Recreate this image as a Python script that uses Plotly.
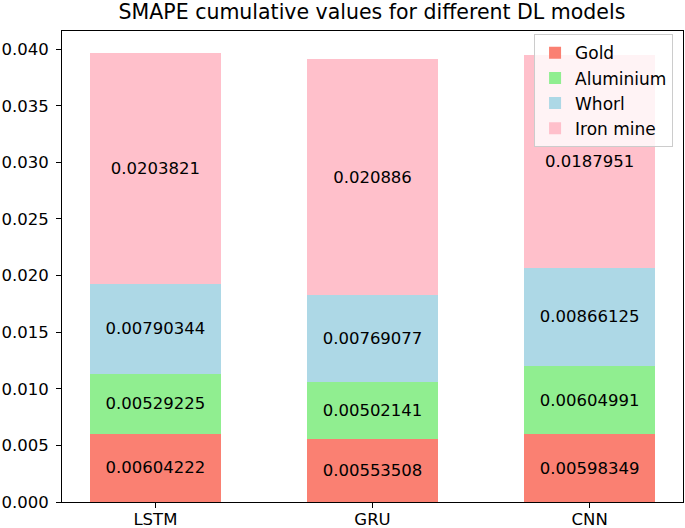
import plotly.graph_objects as go

models = ["LSTM", "GRU", "CNN"]
series_names = ["Gold", "Aluminium", "Whorl", "Iron mine"]
gold = [0.00604222, 0.00553508, 0.00598349]
aluminium = [0.00529225, 0.00502141, 0.00604991]
whorl = [0.00790344, 0.00769077, 0.00866125]
iron = [0.0203821, 0.020886, 0.0187951]
colors = ["#FA8072", "#90EE90", "#ADD8E6", "#FFC0CB"]

fig = go.Figure()
for name, vals, col in zip(series_names, [gold, aluminium, whorl, iron], colors):
    fig.add_trace(go.Bar(
        x=[0, 1, 2], y=vals, name=name, width=0.6,
        marker=dict(color=col, line=dict(width=0)),
        text=[f"{v:.6g}" for v in vals], textposition="inside",
        insidetextanchor="middle", textangle=0, constraintext="none",
        textfont=dict(color="black", size=16.5, family="DejaVu Sans"),
    ))

totals = [a + b + c + d for a, b, c, d in zip(gold, aluminium, whorl, iron)]
ymax = max(totals) * 1.05

fig.update_layout(
    barmode="stack", width=685, height=528,
    margin=dict(l=62, r=2, t=31, b=26, autoexpand=False),
    paper_bgcolor="white", plot_bgcolor="white",
    font=dict(family="DejaVu Sans", size=16.5, color="black"),
    title=dict(text="SMAPE cumulative values for different DL models", x=0.543, xanchor="center",
               y=0.977, yanchor="middle", font=dict(size=20.5)),
    showlegend=True,
    legend=dict(traceorder="normal", x=0.984, xanchor="right", y=0.993, yanchor="top",
                bgcolor="rgba(255,255,255,0.8)", bordercolor="#cccccc", borderwidth=1,
                font=dict(size=17), itemwidth=30, tracegroupgap=0),
    xaxis=dict(range=[-0.43, 2.43], tickvals=[0, 1, 2], ticktext=models, showgrid=False,
               zeroline=False, showline=True, linecolor="black", linewidth=1, mirror=True,
               ticks="outside", ticklen=5, tickcolor="black", automargin=False,
               ticklabelstandoff=-3),
    yaxis=dict(range=[0, ymax], dtick=0.005, tickformat=".3f", showgrid=False, zeroline=False,
               showline=True, linecolor="black", linewidth=1, mirror=True,
               ticks="outside", ticklen=5, tickcolor="black", automargin=False,
               ticklabelstandoff=4),
)

fig.write_html("out.html", config={"displayModeBar": False},
               post_script="document.body.style.margin='0';")
